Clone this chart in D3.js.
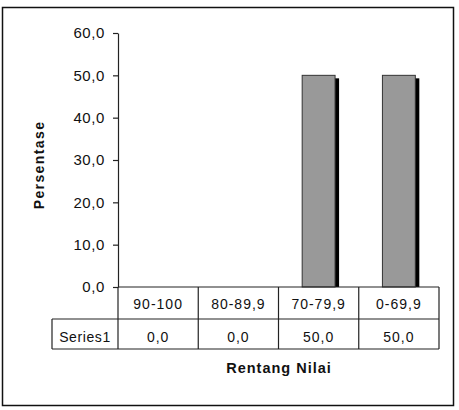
<!DOCTYPE html>
<html>
<head>
<meta charset="utf-8">
<script src="https://cdn.jsdelivr.net/npm/d3@7"></script>
<style>
  body { margin: 0; background: #fff; }
  text { font-family: "Liberation Sans", Arial, sans-serif; fill: #111; }
</style>
</head>
<body>
<div id="vis"></div>
<script>
// chart data
let categories = ['90-100', '80-89,9', '70-79,9', '0-69,9'];
let seriesName = 'Series1';
let values = [0, 0, 50, 50];
let yTicks = [0, 10, 20, 30, 40, 50, 60];

let width = 459, height = 410;
let plot = { left: 118, right: 439, top: 33, bottom: 287 };
let rowH = 31;

let fmt = v => d3.format('.1f')(v).replace('.', ',');

let svg = d3.select('#vis')
  .append('svg')
  .attr('width', width)
  .attr('height', height);

// outer frame
svg.append('rect')
  .attr('x', 2.5).attr('y', 7.5)
  .attr('width', 451).attr('height', 398)
  .attr('fill', 'white')
  .attr('stroke', '#111')
  .attr('stroke-width', 1.5);

let x = d3.scaleBand()
  .domain(categories)
  .range([plot.left, plot.right])
  .paddingInner(0).paddingOuter(0);

let y = d3.scaleLinear()
  .domain([0, 60])
  .range([plot.bottom, plot.top]);

// y axis
let yAxis = svg.append('g')
  .attr('transform', `translate(${plot.left},0)`)
  .call(d3.axisLeft(y).tickValues(yTicks).tickSize(5).tickSizeOuter(0).tickPadding(8).tickFormat(fmt));
yAxis.select('.domain').attr('stroke', '#222').attr('stroke-width', 1.2);
yAxis.selectAll('.tick line').attr('stroke', '#222').attr('stroke-width', 1.2);
yAxis.selectAll('.tick text')
  .style('font-family', '"Liberation Sans", Arial, sans-serif')
  .style('font-size', '15px')
  .style('letter-spacing', '0.6px')
  .attr('fill', '#111');

// bars with shadow
let bw = x.bandwidth() * 0.41;
let bars = svg.append('g');
bars.selectAll('.shadow')
  .data(values.map((v, i) => ({ c: categories[i], v: v })).filter(d => d.v > 0))
  .join('rect')
  .attr('class', 'shadow')
  .attr('x', d => x(d.c) + (x.bandwidth() - bw) / 2 + 4)
  .attr('y', d => y(d.v) + 3)
  .attr('width', bw)
  .attr('height', d => y(0) - y(d.v) - 3)
  .attr('fill', '#000');
bars.selectAll('.bar')
  .data(values.map((v, i) => ({ c: categories[i], v: v })).filter(d => d.v > 0))
  .join('rect')
  .attr('class', 'bar')
  .attr('x', d => x(d.c) + (x.bandwidth() - bw) / 2)
  .attr('y', d => y(d.v))
  .attr('width', bw)
  .attr('height', d => y(0) - y(d.v))
  .attr('fill', '#999999')
  .attr('stroke', '#333')
  .attr('stroke-width', 1);

// data table
let table = svg.append('g').attr('stroke', '#222').attr('stroke-width', 1.2);
let t0 = y(0), t1 = t0 + 32, t2 = t1 + 30;
let legLeft = 52;
table.append('line').attr('x1', plot.left).attr('x2', plot.right).attr('y1', t0).attr('y2', t0);
table.append('line').attr('x1', legLeft).attr('x2', plot.right).attr('y1', t1).attr('y2', t1);
table.append('line').attr('x1', legLeft).attr('x2', plot.right).attr('y1', t2).attr('y2', t2);
table.append('line').attr('x1', legLeft).attr('x2', legLeft).attr('y1', t1).attr('y2', t2);
let edges = categories.map(c => x(c)).concat([x.range()[1]]);
table.selectAll('.vline')
  .data(edges)
  .join('line')
  .attr('x1', d => d).attr('x2', d => d)
  .attr('y1', t0).attr('y2', t2);

svg.append('g').selectAll('text')
  .data(categories)
  .join('text')
  .attr('x', d => x(d) + x.bandwidth() / 2)
  .attr('y', t0 + 22)
  .attr('text-anchor', 'middle')
  .style('font-size', '14px')
  .style('letter-spacing', '1px')
  .text(d => d);

svg.append('g').selectAll('text')
  .data(values)
  .join('text')
  .attr('x', (d, i) => x(categories[i]) + x.bandwidth() / 2)
  .attr('y', t1 + 23)
  .attr('text-anchor', 'middle')
  .style('font-size', '14px')
  .style('letter-spacing', '1px')
  .text(d => fmt(d));

svg.append('text')
  .attr('x', (legLeft + plot.left) / 2)
  .attr('y', t1 + 23)
  .attr('text-anchor', 'middle')
  .style('font-size', '14px')
  .style('letter-spacing', '0.6px')
  .text(seriesName);

// axis titles
svg.append('text')
  .attr('transform', 'translate(44,165) rotate(-90)')
  .attr('text-anchor', 'middle')
  .style('font-size', '14px')
  .style('font-weight', 'bold')
  .style('letter-spacing', '1.4px')
  .text('Persentase');

svg.append('text')
  .attr('x', 279)
  .attr('y', 373)
  .attr('text-anchor', 'middle')
  .style('font-size', '14.5px')
  .style('font-weight', 'bold')
  .style('letter-spacing', '1px')
  .text('Rentang Nilai');
</script>
</body>
</html>
